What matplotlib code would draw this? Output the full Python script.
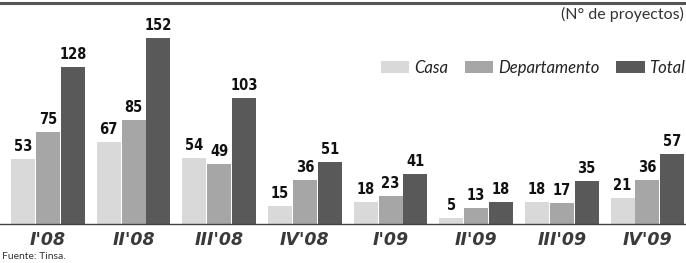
import numpy as np
import matplotlib
matplotlib.use('Agg')
import matplotlib.pyplot as plt

quarters = ["I'08", "II'08", "III'08", "IV'08", "I'09", "II'09", "III'09", "IV'09"]
casa = [53, 67, 54, 15, 18, 5, 18, 21]
departamento = [75, 85, 49, 36, 23, 13, 17, 36]
total = [128, 152, 103, 51, 41, 18, 35, 57]

series = [('Casa', casa, '#d9d9d9'),
          ('Departamento', departamento, '#a6a6a6'),
          ('Total', total, '#595959')]

fig = plt.figure(figsize=(6.86, 2.63), dpi=100)
ax = fig.add_axes([0, 39 / 263, 1, 224 / 263])

x = np.arange(len(quarters))
w = 0.28
for k, (name, vals, col) in enumerate(series):
    pos = x + (k - 1) * 0.29
    ax.bar(pos, vals, width=w, color=col, label=name)
    for p, v in zip(pos, vals):
        ax.text(p, v + 4, str(v), ha='center', va='bottom', fontsize=10.5,
                fontweight='bold', fontstretch='condensed', color='#111111',
                family='DejaVu Sans')

ax.set_xlim(-0.56, 7.45)
ax.set_ylim(0, 183)
for s in ['top', 'right', 'left']:
    ax.spines[s].set_visible(False)
ax.spines['bottom'].set_color('#444444')
ax.spines['bottom'].set_linewidth(1)
ax.set_yticks([])
ax.set_xticks(x)
ax.set_xticklabels(quarters, fontsize=12.5, fontweight='bold', style='italic',
                   color='#3a3a3a')
ax.tick_params(axis='x', length=0, pad=5)

leg = ax.legend(loc='upper right', bbox_to_anchor=(1.021, 0.80), ncol=3, frameon=False,
                prop={'style': 'italic', 'size': 12, 'family': 'Lato'},
                handlelength=1.7, handleheight=0.8, handletextpad=0.3,
                columnspacing=1.0)
for t in leg.get_texts():
    t.set_color('#222222')

fig.text(0.997, 0.945, '(N° de proyectos)', ha='right', va='center', fontsize=11.5,
         color='#333333', family='Lato')
fig.text(0.003, 0.025, 'Fuente: Tinsa.', ha='left', va='center', fontsize=7.5,
         color='#333333', family='Lato')
fig.add_artist(plt.Line2D([0, 1], [1 - 3 / 263, 1 - 3 / 263], color='#555555',
                          linewidth=2.2, transform=fig.transFigure))

fig.savefig('out.png', dpi=100)
